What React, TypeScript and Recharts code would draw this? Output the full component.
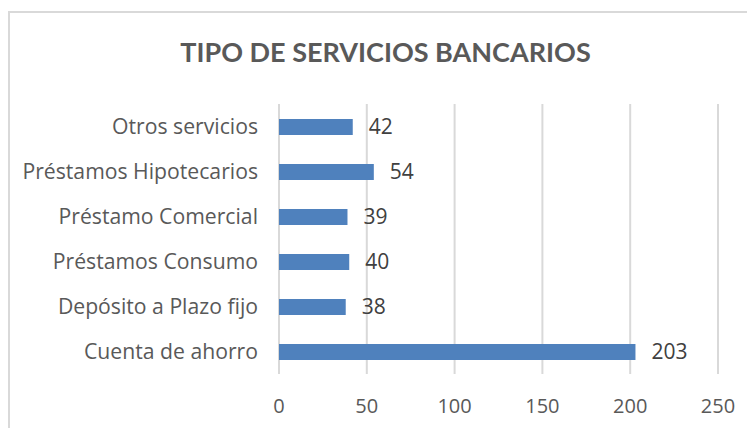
import { BarChart, Bar, XAxis, YAxis, CartesianGrid, LabelList } from "recharts";

// Servicios, de arriba hacia abajo como en el gráfico
const SERVICIOS = [
  "Otros servicios",
  "Préstamos Hipotecarios",
  "Préstamo Comercial",
  "Préstamos Consumo",
  "Depósito a Plazo fijo",
  "Cuenta de ahorro",
];
const CANTIDADES = [42, 54, 39, 40, 38, 203];
const X_TICKS = [0, 50, 100, 150, 200, 250];

const data = SERVICIOS.map((name, i) => ({ name, value: CANTIDADES[i] }));

const TITLE_FONT = "Lato, 'Open Sans', sans-serif";
const FONT = "'Open Sans', Lato, sans-serif";

export default function App() {
  return (
    <div
      style={{
        position: "relative",
        marginTop: 3,
        width: 747,
        height: 417,
        borderTop: "2px solid #d9d9d9",
        borderLeft: "2px solid #d9d9d9",
        boxSizing: "border-box",
        fontFamily: FONT,
        overflow: "hidden",
      }}
    >
      <div
        style={{
          position: "absolute",
          left: 0,
          top: 22,
          width: 755,
          textAlign: "center",
          fontSize: 27,
          fontWeight: 700,
          fontFamily: TITLE_FONT,
          color: "#595959",
          marginLeft: -2,
        }}
      >
        TIPO DE SERVICIOS BANCARIOS
      </div>
      <BarChart
        layout="vertical"
        width={745}
        height={415}
        data={data}
        margin={{ top: 91, right: 37, bottom: 24, left: 10 }}
        barCategoryGap="32%"
      >
        <CartesianGrid horizontal={false} stroke="#d9d9d9" strokeWidth={2} />
        <XAxis
          type="number"
          domain={[0, 250]}
          ticks={X_TICKS}
          axisLine={false}
          tickLine={false}
          tickSize={0}
          tickMargin={25}
          height={30}
          interval={0}
          tick={{ fill: "#595959", fontSize: 20, fontFamily: FONT }}
        />
        <YAxis
          type="category"
          dataKey="name"
          width={259}
          axisLine={false}
          tickLine={false}
          tickSize={0}
          tickMargin={21}
          interval={0}
          tick={{ fill: "#595959", fontSize: 21.2, fontFamily: FONT }}
        />
        <Bar dataKey="value" fill="#4f81bd" barSize={16} isAnimationActive={false}>
          <LabelList
            dataKey="value"
            position="right"
            offset={16}
            fill="#404040"
            fontSize={21}
            fontFamily={FONT}
          />
        </Bar>
      </BarChart>
    </div>
  );
}
